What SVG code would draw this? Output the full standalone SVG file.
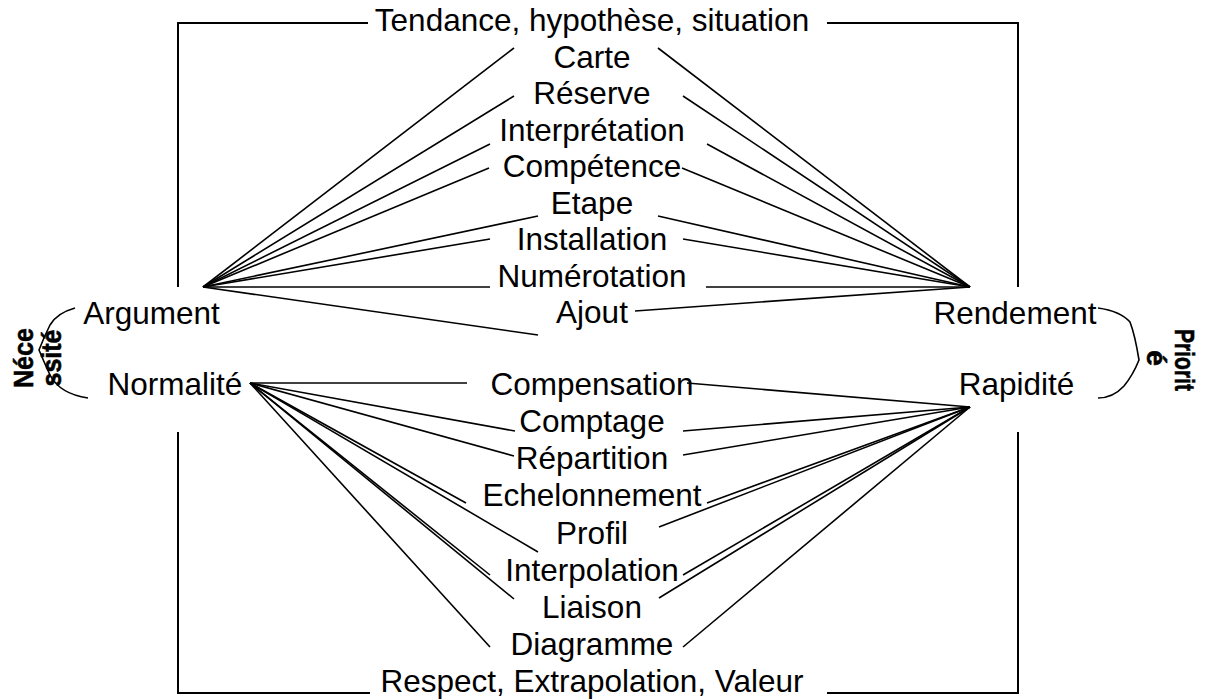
<svg xmlns="http://www.w3.org/2000/svg" width="1208" height="700" viewBox="0 0 1208 700">
<style>
text{font-family:"Liberation Sans",Arial,sans-serif;font-size:31.5px;fill:#000;text-anchor:middle}
.v{font-weight:bold;font-size:28px;stroke:#000;stroke-width:0.6}
.c line,.c polyline,.c path{stroke:#000;stroke-width:1.6;fill:none}
.f{stroke-width:2!important}
</style>
<rect width="1208" height="700" fill="#fff"/>
<g class="c" id="connectors">
<polyline class="f" points="368,23 178,23 178,287"/>
<polyline class="f" points="827,23 1018,23 1018,287"/>
<polyline class="f" points="178,432 178,693 370,693"/>
<polyline class="f" points="1018,432 1018,693 827,693"/>
<line x1="203" y1="287" x2="514" y2="48"/>
<line x1="203" y1="287" x2="514" y2="96"/>
<line x1="203" y1="287" x2="490" y2="144"/>
<line x1="203" y1="287" x2="489" y2="168"/>
<line x1="203" y1="287" x2="538" y2="216"/>
<line x1="203" y1="287" x2="490" y2="239"/>
<line x1="203" y1="287" x2="490" y2="287"/>
<line x1="203" y1="287" x2="538" y2="335"/>
<line x1="970" y1="287" x2="658" y2="48"/>
<line x1="970" y1="287" x2="683" y2="96"/>
<line x1="970" y1="287" x2="707" y2="144"/>
<line x1="970" y1="287" x2="682" y2="168"/>
<line x1="970" y1="287" x2="658" y2="216"/>
<line x1="970" y1="287" x2="683" y2="239"/>
<line x1="970" y1="287" x2="706" y2="287"/>
<line x1="970" y1="287" x2="635" y2="311"/>
<line x1="250" y1="383" x2="467" y2="383"/>
<line x1="250" y1="383" x2="515" y2="431"/>
<line x1="250" y1="383" x2="514" y2="456"/>
<line x1="250" y1="383" x2="466" y2="503"/>
<line x1="250" y1="383" x2="538" y2="552"/>
<line x1="250" y1="383" x2="490" y2="575"/>
<line x1="250" y1="383" x2="514" y2="599"/>
<line x1="250" y1="383" x2="490" y2="647"/>
<line x1="970" y1="407" x2="687" y2="383"/>
<line x1="970" y1="407" x2="683" y2="431"/>
<line x1="970" y1="407" x2="683" y2="455"/>
<line x1="970" y1="407" x2="707" y2="503"/>
<line x1="970" y1="407" x2="659" y2="527"/>
<line x1="970" y1="407" x2="683" y2="575"/>
<line x1="970" y1="407" x2="659" y2="598"/>
<line x1="970" y1="407" x2="683" y2="647"/>
<path d="M75,308 Q57,313 50,325 Q44,337 39,350 Q44,362 50,375 Q60,394 88,398"/>
<path d="M1098,308 Q1120,311 1130,322 Q1135,335 1139,360 Q1133,375 1124,386 Q1113,398 1098,398"/>
</g>
<g id="n-tendance"><text x="592" y="31">Tendance, hypothèse, situation</text></g>
<g id="n-carte"><text x="592" y="67.5">Carte</text></g>
<g id="n-reserve"><text x="592" y="104">Réserve</text></g>
<g id="n-interpretation"><text x="592" y="140.5">Interprétation</text></g>
<g id="n-competence"><text x="592" y="177">Compétence</text></g>
<g id="n-etape"><text x="592" y="213.5">Etape</text></g>
<g id="n-installation"><text x="592" y="250">Installation</text></g>
<g id="n-numerotation"><text x="592" y="286.5">Numérotation</text></g>
<g id="n-ajout"><text x="592" y="323">Ajout</text></g>
<g id="n-argument"><text x="151.5" y="324">Argument</text></g>
<g id="n-rendement"><text x="1015" y="324">Rendement</text></g>
<g id="n-normalite"><text x="175" y="395">Normalité</text></g>
<g id="n-rapidite"><text x="1016.5" y="395">Rapidité</text></g>
<g id="n-compensation"><text x="592" y="395">Compensation</text></g>
<g id="n-comptage"><text x="592" y="432">Comptage</text></g>
<g id="n-repartition"><text x="592" y="469">Répartition</text></g>
<g id="n-echelonnement"><text x="592" y="506">Echelonnement</text></g>
<g id="n-profil"><text x="592" y="543.5">Profil</text></g>
<g id="n-interpolation"><text x="592" y="580.5">Interpolation</text></g>
<g id="n-liaison"><text x="592" y="617.5">Liaison</text></g>
<g id="n-diagramme"><text x="592" y="654.5">Diagramme</text></g>
<g id="n-respect"><text x="592" y="691.5">Respect, Extrapolation, Valeur</text></g>
<g id="n-necessite">
<text class="v" transform="translate(33,358) rotate(-90)" textLength="60" lengthAdjust="spacingAndGlyphs">Néce</text>
<text class="v" transform="translate(61,358) rotate(-90)" textLength="57" lengthAdjust="spacingAndGlyphs">ssité</text>
</g>
<g id="n-priorite">
<text class="v" transform="translate(1175,360) rotate(90)" textLength="62" lengthAdjust="spacingAndGlyphs">Priorit</text>
<text class="v" transform="translate(1147,358) rotate(90)">é</text>
</g>
</svg>
